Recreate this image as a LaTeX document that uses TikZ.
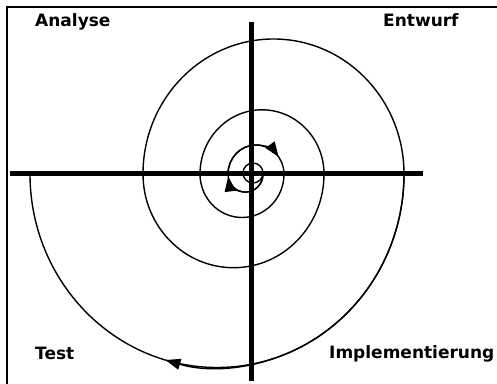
\documentclass[tikz,border=0pt]{standalone}
\usepackage{fontspec}
\setmainfont{DejaVu Sans}
\usepackage{tikz}
\usetikzlibrary{arrows.meta}

\begin{document}
\begin{tikzpicture}[x=1pt, y=1pt,
  frame/.style={draw, line width=2pt},
  axis/.style={line width=5pt},
  spiral/.style={line width=1.4pt},
  dirtip/.style={spiral, -{Triangle[length=15pt, width=11pt]}},
  phase/.style={font=\fontsize{17}{20}\selectfont\bfseries, inner sep=0pt, anchor=base west}]
\useasboundingbox (0,0) rectangle (497,383);
\clip (0,0) rectangle (497,383);
\draw[frame] (7,376) rectangle (520,-20);
% axes
\coordinate (up) at (251,361);
\coordinate (down) at (251,2);
\coordinate (left) at (10,209);
\coordinate (right) at (423,209);
\draw[axis] (up) -- (down);
\draw[axis] (left) -- (right);
% spiral
\draw[spiral] (253,210) circle[radius=10];
\draw[spiral] (263,209)
  arc[start angle=0, end angle=-180, x radius=17.5, y radius=18.1]
  arc[start angle=180, end angle=0, x radius=28, y radius=29]
  arc[start angle=0, end angle=-180, x radius=42, y radius=43.5]
  arc[start angle=180, end angle=0, x radius=62, y radius=64.2]
  arc[start angle=0, end angle=-180, x radius=90.5, y radius=93.7]
  arc[start angle=180, end angle=0, x radius=130.5, y radius=135]
  arc[start angle=0, end angle=-180, x radius=187, y radius=193.5];
% direction
\draw[dirtip] (263,209) arc[start angle=0, end angle=-172, x radius=17.5, y radius=18.1];
\draw[dirtip] (228,209) arc[start angle=180, end angle=36, x radius=28, y radius=29];
\draw[dirtip] (404,209) arc[start angle=0, end angle=-106, x radius=187, y radius=193.5];
% phases
\node[phase] (analyse) at (35,356) {Analyse};
\node[phase] (entwurf) at (383,356) {Entwurf};
\node[phase] (test) at (35,24) {Test};
\node[phase] (impl) at (329,25) {Implementierung};
\end{tikzpicture}
\end{document}
